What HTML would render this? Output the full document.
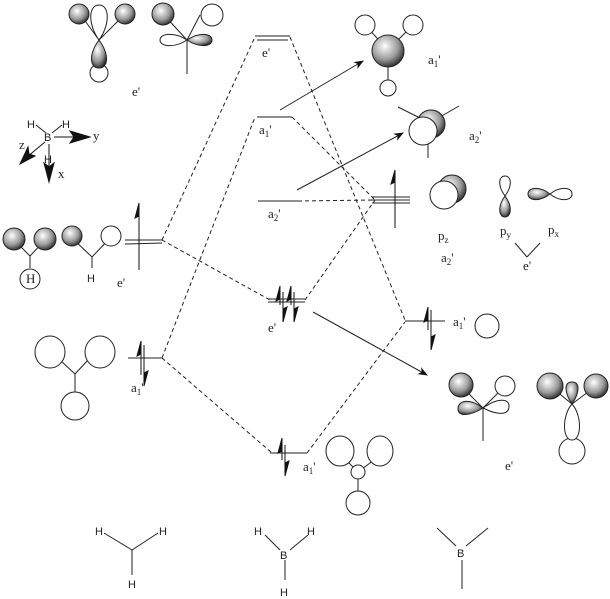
<!DOCTYPE html>
<html><head><meta charset="utf-8"><style>
html,body{margin:0;padding:0;background:#fff}
svg{display:block}
text{font-family:"Liberation Serif",serif;font-size:13px;fill:#222}
.s{font-family:"Liberation Sans",sans-serif;font-size:11px}
</style></head><body>
<svg width="610" height="599" viewBox="0 0 610 599" xmlns="http://www.w3.org/2000/svg">
<defs>
<radialGradient id="g" cx="0.4" cy="0.35" r="0.7">
<stop offset="0" stop-color="#fff"/><stop offset="0.6" stop-color="#999"/><stop offset="1" stop-color="#222"/></radialGradient>
<marker id="ar" markerWidth="10" markerHeight="8" refX="9" refY="4" orient="auto" markerUnits="userSpaceOnUse">
<path d="M0,0 L10,4 L0,8 L3,4z" fill="#111"/></marker>
</defs>
<g stroke="#222" stroke-width="1" fill="none">
<!-- dashed correlation lines -->
<g stroke-dasharray="4,3">
<line x1="162" y1="240" x2="255" y2="37"/>
<line x1="162" y1="240" x2="270" y2="300"/>
<line x1="162" y1="358" x2="255" y2="117"/>
<line x1="162" y1="358" x2="272" y2="453"/>
<line x1="290" y1="37" x2="405" y2="320"/>
<line x1="292" y1="117" x2="375" y2="200"/>
<line x1="298" y1="201" x2="373" y2="200"/>
<line x1="305" y1="300" x2="375" y2="200"/>
<line x1="307" y1="453" x2="405" y2="322"/>
</g>
<!-- levels -->
<line x1="255" y1="36" x2="290" y2="36"/><line x1="257" y1="40" x2="288" y2="40"/>
<line x1="257" y1="117" x2="292" y2="117"/>
<line x1="258" y1="201" x2="298" y2="201"/>
<line x1="268" y1="299" x2="305" y2="299"/><line x1="268" y1="302" x2="305" y2="302"/>
<line x1="270" y1="453" x2="307" y2="453"/>
<line x1="125" y1="240" x2="162" y2="240"/><line x1="125" y1="244" x2="162" y2="243"/>
<line x1="128" y1="358" x2="162" y2="358"/>
<line x1="372" y1="197" x2="410" y2="197"/><line x1="372" y1="200" x2="410" y2="200"/><line x1="372" y1="203" x2="410" y2="203"/>
<line x1="405" y1="321" x2="445" y2="321"/>
<!-- solid arrows -->
<line x1="280" y1="110" x2="363" y2="61" marker-end="url(#ar)"/>
<line x1="297" y1="190" x2="403" y2="133" marker-end="url(#ar)"/>
<line x1="313" y1="312" x2="427" y2="375" marker-end="url(#ar)"/>
</g>
<!-- electrons -->
<g stroke="#111" fill="#111">
<line x1="139" y1="270" x2="139" y2="203"/><path d="M139,203 L135,218 L139,216z"/>
<line x1="141" y1="345" x2="141" y2="375" /><path d="M141,341 L137,356 L141,354z"/>
<line x1="144" y1="345" x2="144" y2="385"/><path d="M144,386 L148,371 L144,373z"/>
<line x1="395" y1="228" x2="395" y2="170"/><path d="M395,170 L391,184 L395,182z"/>
<line x1="428" y1="307" x2="428" y2="330"/><path d="M428,307 L424,322 L428,320z"/>
<line x1="431" y1="310" x2="431" y2="350"/><path d="M431,350 L435,335 L431,337z"/>
<line x1="280" y1="286" x2="280" y2="305"/><path d="M280,286 L276,301 L280,299z"/>
<line x1="283" y1="292" x2="283" y2="322"/><path d="M283,322 L287,307 L283,309z"/>
<line x1="291" y1="286" x2="291" y2="305"/><path d="M291,286 L287,301 L291,299z"/>
<line x1="294" y1="292" x2="294" y2="322"/><path d="M294,322 L298,307 L294,309z"/>
<line x1="282" y1="438" x2="282" y2="460"/><path d="M282,438 L278,453 L282,451z"/>
<line x1="285" y1="445" x2="285" y2="476"/><path d="M285,476 L289,461 L285,463z"/>
</g>
<!-- labels -->
<text x="132" y="96">e'</text>
<text x="262" y="57">e'</text>
<text x="259" y="134">a<tspan font-size="9" dy="3">1</tspan><tspan dy="-3">'</tspan></text>
<text x="268" y="218">a<tspan font-size="9" dy="3">2</tspan><tspan dy="-3">'</tspan></text>
<text x="268" y="332">e'</text>
<text x="303" y="471">a<tspan font-size="9" dy="3">1</tspan><tspan dy="-3">'</tspan></text>
<text x="117" y="287">e'</text>
<text x="131" y="392">a<tspan font-size="9" dy="3">1</tspan><tspan dy="-3">'</tspan></text>
<text x="453" y="326">a<tspan font-size="9" dy="3">1</tspan><tspan dy="-3">'</tspan></text>
<text x="428" y="64">a<tspan font-size="9" dy="3">1</tspan><tspan dy="-3">'</tspan></text>
<text x="469" y="140">a<tspan font-size="9" dy="3">2</tspan><tspan dy="-3">'</tspan></text>
<text x="438" y="240">p<tspan font-size="9" dy="3">z</tspan></text>
<text x="441" y="262">a<tspan font-size="9" dy="3">2</tspan><tspan dy="-3">'</tspan></text>
<text x="500" y="235">p<tspan font-size="9" dy="3">y</tspan></text>
<text x="548" y="234">p<tspan font-size="9" dy="3">x</tspan></text>
<text x="523" y="270">e'</text>
<text x="505" y="470">e'</text>
<!-- orbital pictures -->
<g stroke="#222" stroke-width="1" fill="none">
<!-- top-left e' -->
<line x1="80" y1="14" x2="99" y2="40"/><line x1="125" y1="14" x2="99" y2="40"/>
<path d="M99,40 C88,25 88,5 99,5 C110,5 110,25 99,40z" fill="#fff"/>
<circle cx="99" cy="73" r="9" fill="#fff"/>
<path d="M99,40 C88,55 90,68 99,68 C108,68 110,55 99,40z" fill="url(#g)"/>
<circle cx="79" cy="14" r="10" fill="url(#g)"/><circle cx="125" cy="14" r="10" fill="url(#g)"/>
<line x1="163" y1="14" x2="187" y2="40"/><line x1="200" y1="15" x2="187" y2="40"/><line x1="187" y1="40" x2="187" y2="74"/>
<circle cx="163" cy="14" r="11" fill="url(#g)"/><circle cx="212" cy="15" r="11" fill="#fff"/>
<path d="M187,40 C175,32 160,33 160,40 C160,47 175,48 187,40z" fill="#fff"/>
<path d="M187,40 C199,32 212,33 212,40 C212,47 199,48 187,40z" fill="url(#g)"/>
<!-- left e' frags -->
<line x1="14" y1="240" x2="30" y2="256"/><line x1="45" y1="240" x2="30" y2="256"/><line x1="30" y1="256" x2="30" y2="268"/>
<circle cx="14" cy="239" r="11" fill="url(#g)"/><circle cx="45" cy="239" r="11" fill="url(#g)"/>
<circle cx="30" cy="279" r="10" fill="#fff"/>
<line x1="72" y1="238" x2="92" y2="257"/><line x1="111" y1="237" x2="92" y2="257"/><line x1="92" y1="257" x2="92" y2="268"/>
<circle cx="72" cy="236" r="10" fill="url(#g)"/><circle cx="111" cy="236" r="10" fill="#fff"/>
<!-- left a1' -->
<line x1="60" y1="360" x2="75" y2="374"/><line x1="88" y1="360" x2="75" y2="374"/><line x1="75" y1="374" x2="75" y2="393"/>
<ellipse cx="50" cy="352" rx="15" ry="16" fill="#fff"/><ellipse cx="100" cy="352" rx="15" ry="16" fill="#fff"/>
<ellipse cx="75" cy="406" rx="14" ry="14" fill="#fff"/>
<!-- right top a1' -->
<line x1="365" y1="25" x2="388" y2="50"/><line x1="413" y1="25" x2="388" y2="50"/><line x1="388" y1="50" x2="388" y2="88"/>
<circle cx="365" cy="25" r="10" fill="#fff"/><circle cx="413" cy="25" r="10" fill="#fff"/><circle cx="388" cy="88" r="8" fill="#fff"/>
<circle cx="388" cy="51" r="16" fill="url(#g)"/>
<!-- a2' -->
<line x1="398" y1="107" x2="422" y2="119"/><line x1="459" y1="106" x2="440" y2="117"/><line x1="428" y1="142" x2="428" y2="158"/>
<circle cx="431" cy="124" r="14" fill="url(#g)"/><circle cx="423" cy="131" r="14" fill="#fff"/>
<!-- pz -->
<circle cx="452" cy="189" r="14" fill="url(#g)"/><circle cx="444" cy="195" r="14" fill="#fff"/>
<!-- py -->
<path d="M505,196 C497,185 499,176 505,176 C511,176 513,185 505,196z" fill="#fff"/>
<path d="M505,196 C497,207 499,217 505,217 C511,217 513,207 505,196z" fill="url(#g)"/>
<!-- px -->
<path d="M550,194 C540,186 528,187 528,194 C528,201 540,202 550,194z" fill="url(#g)"/>
<path d="M550,194 C560,186 572,187 572,194 C572,201 560,202 550,194z" fill="#fff"/>
<line x1="515" y1="243" x2="527" y2="257"/><line x1="540" y1="243" x2="527" y2="257"/>
<!-- right a1' circle -->
<circle cx="487" cy="326" r="12" fill="#fff"/>
<!-- bottom right e' -->
<line x1="461" y1="386" x2="483" y2="408"/><line x1="505" y1="386" x2="483" y2="408"/><line x1="483" y1="408" x2="483" y2="441"/>
<circle cx="461" cy="385" r="12" fill="url(#g)"/><circle cx="505" cy="386" r="10" fill="#fff"/>
<path d="M483,408 C497,398 509,398 509,406 C509,416 497,415 483,408z" fill="#fff"/>
<path d="M483,408 C470,398 458,400 458,409 C458,417 470,416 483,408z" fill="url(#g)"/>
<circle cx="572" cy="451" r="13" fill="#fff"/>
<path d="M572,404 C562,415 562,440 572,440 C582,440 582,415 572,404z" fill="#fff"/>
<line x1="550" y1="386" x2="572" y2="404"/><line x1="596" y1="386" x2="572" y2="404"/>
<circle cx="550" cy="386" r="13" fill="url(#g)"/><circle cx="596" cy="386" r="12" fill="url(#g)"/>
<path d="M572,404 C564,392 564,382 572,382 C580,382 580,392 572,404z" fill="url(#g)"/>
<!-- bottom a1' -->
<line x1="346" y1="460" x2="358" y2="472"/><line x1="374" y1="460" x2="358" y2="472"/><line x1="358" y1="472" x2="358" y2="492"/>
<ellipse cx="340" cy="451" rx="14" ry="15" fill="#fff"/><ellipse cx="380" cy="451" rx="13" ry="15" fill="#fff"/>
<circle cx="358" cy="472" r="7" fill="#fff"/><ellipse cx="358" cy="503" rx="12" ry="12" fill="#fff"/>
<!-- axes -->
<line x1="36" y1="125" x2="46" y2="133"/><line x1="62" y1="125" x2="52" y2="133"/>
</g>
<text x="26" y="283" font-size="12">H</text>
<text x="87" y="282" class="s">H</text>
<g stroke="#111" fill="#111">
<line x1="54" y1="137" x2="80" y2="137"/><path d="M90,137 L70,131 L74,137 L70,143z"/>
<line x1="45" y1="142" x2="27" y2="157"/><path d="M20,164 L28,147 L29,154 L35,156z"/>
<line x1="49" y1="144" x2="49" y2="172"/><path d="M49,182 L44,163 L49,167 L54,163z"/>
</g>
<text x="27" y="128" class="s">H</text><text x="62" y="128" class="s">H</text>
<text x="44" y="141" class="s">B</text><text x="44" y="163" class="s">H</text>
<text x="93" y="140" font-size="9">y</text><text x="19" y="149" font-size="9">z</text><text x="58" y="178" font-size="9">x</text>
<!-- bottom structures -->
<g stroke="#222" fill="none">
<line x1="104" y1="533" x2="132" y2="550"/><line x1="158" y1="533" x2="132" y2="550"/><line x1="132" y1="550" x2="132" y2="575"/>
<line x1="265" y1="535" x2="280" y2="550"/><line x1="308" y1="535" x2="290" y2="550"/><line x1="285" y1="560" x2="285" y2="580"/>
<line x1="437" y1="528" x2="456" y2="546"/><line x1="488" y1="528" x2="466" y2="546"/><line x1="462" y1="560" x2="462" y2="589"/>
</g>
<text x="95" y="535" class="s">H</text><text x="159" y="535" class="s">H</text><text x="128" y="588" class="s">H</text>
<text x="254" y="535" class="s">H</text><text x="307" y="535" class="s">H</text><text x="280" y="559" class="s">B</text><text x="280" y="596" class="s">H</text>
<text x="457" y="557" class="s">B</text>
</svg>
</body></html>
